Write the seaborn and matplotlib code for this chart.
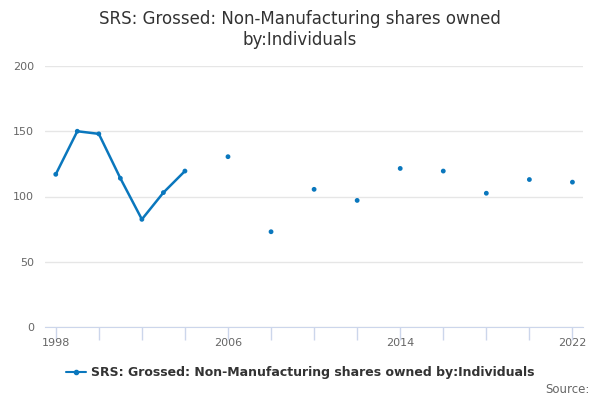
import numpy as np
import pandas as pd
import matplotlib
matplotlib.use("Agg")
import matplotlib.pyplot as plt
from matplotlib.lines import Line2D
import seaborn as sns

# data
years = [1998, 1999, 2000, 2001, 2002, 2003, 2004, 2006, 2008, 2010, 2012, 2014, 2016, 2018, 2020, 2022]
values = [117, 150, 148, 114, 82.5, 103, 119.5, 130.5, 73, 105.5, 97, 121.5, 119.5, 102.5, 113, 111]
series_name = "SRS: Grossed: Non-Manufacturing shares owned by:Individuals"
title = "SRS: Grossed: Non-Manufacturing shares owned\nby:Individuals"
tick_years = [1998, 2006, 2014, 2022]

colour = "#0a77bd"

df = pd.DataFrame({"year": years, "value": values})
# consecutive years form one line segment, gaps break the line
df["segment"] = (df["year"].diff() != 1).cumsum()

sns.set_style("white")
plt.rcParams['font.family'] = ['DejaVu Sans']

fig = plt.figure(figsize=(6, 4), dpi=100)
ax = fig.add_axes([0.075, 0.1825, 0.897, 0.6525])

for seg, part in df.groupby("segment"):
    if len(part) > 1:
        sns.lineplot(data=part, x="year", y="value", ax=ax, color=colour, linewidth=1.8)
sns.scatterplot(data=df, x="year", y="value", ax=ax, color=colour, s=12, edgecolor="none", zorder=3)

ax.set_ylim(0, 200)
ax.set_xlim(1997.5, 2022.5)
ax.set_yticks([0, 50, 100, 150, 200])
ax.yaxis.grid(True, color="#e6e6e6", linewidth=1)
ax.set_axisbelow(True)
ax.set_xticks(list(range(1998, 2023, 2)))
ax.set_xticklabels([str(y) if y in tick_years else "" for y in range(1998, 2023, 2)])
ax.tick_params(axis="x", bottom=True, direction="out", length=9, width=1, color="#ccd6eb",
               labelsize=8, labelcolor="#666666", pad=-1)
ax.tick_params(axis="y", left=False, length=0, labelsize=8, labelcolor="#666666", pad=8)
for s in ["top", "right", "left"]:
    ax.spines[s].set_visible(False)
ax.spines["bottom"].set_color("#ccd6eb")
ax.set_xlabel("")
ax.set_ylabel("")

fig.suptitle(title, x=0.5, y=0.975, fontsize=12, color="#333333")

handle = Line2D([0], [0], color=colour, linewidth=1.5, marker="o", markersize=3)
fig.legend([handle], [series_name], loc="center", bbox_to_anchor=(0.5, 0.068), frameon=False,
           prop={"weight": "bold", "size": 9}, labelcolor="#333333", handlelength=1.6, handletextpad=0.4)
fig.text(0.982, 0.01, "Source:", ha="right", va="bottom", fontsize=8.5, color="#666666")

fig.savefig("out.png", dpi=100)
